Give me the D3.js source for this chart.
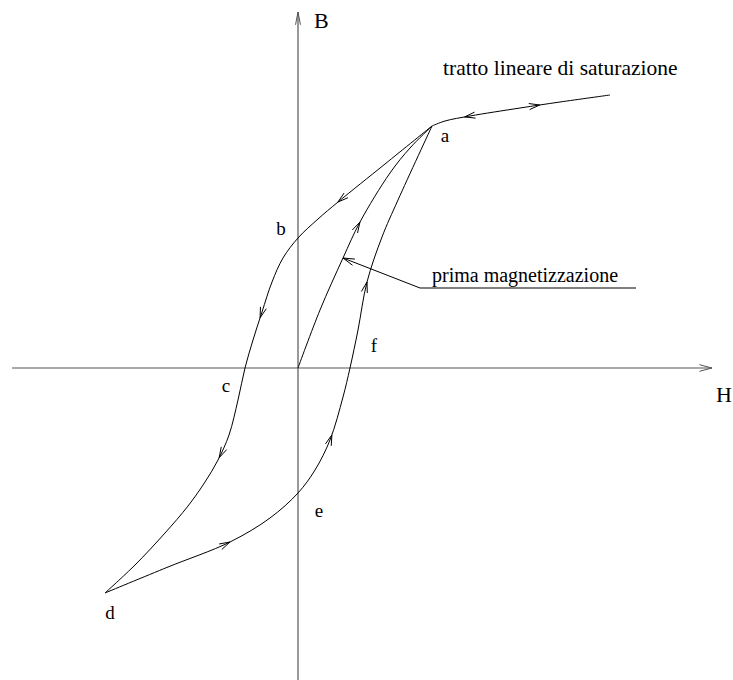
<!DOCTYPE html>
<html>
<head>
<meta charset="utf-8">
<script src="https://cdn.jsdelivr.net/npm/d3@7"></script>
<style>
  body { margin: 0; background: #fff; }
  text { font-family: "Liberation Serif", "DejaVu Serif", serif; fill: #000; }
</style>
</head>
<body>
<div id="chart"></div>
<script>
// curves in (H, B) units, origin at the axes crossing
var saturation = [[134, 242], [147, 247], [172, 252], [222, 260], [262, 266], [312, 273]];
var descending = [[134, 242], [87, 204], [40, 166], [20, 149], [0, 130], [-15, 110], [-26, 86],
  [-36, 56], [-45, 28], [-53, 0], [-60, -32], [-69, -67], [-80, -92], [-93, -114], [-110, -138],
  [-133, -165], [-163, -197], [-193, -225]];
var ascending = [[-193, -225], [-130, -199], [-68, -174], [-28, -150], [0, -125], [17, -102],
  [32, -72], [45, -29], [52, 0], [60, 38], [69, 86], [84, 131], [100, 168], [134, 242]];
var firstMag = [[0, 0], [22, 58], [45, 110], [62, 146], [92, 195], [112, 220], [134, 242]];

// arrow tips: curve name, point near the tip, direction along the curve
var arrows = [
  ['saturation', 167, 250, -1], ['saturation', 242, 260, 1],
  ['descending', 40, 166, 1], ['descending', -38, 50, 1], ['descending', -80, -89, 1],
  ['ascending', -68, -174, 1], ['ascending', 34, -67, 1], ['ascending', 69, 86, 1],
  ['firstMag', 62, 146, 1]
];

var pointNames = ['a', 'b', 'c', 'd', 'e', 'f'];
var pointPos = [[147, 226], [-17, 133], [-72, -24], [-188, -251], [21, -149], [76, 16]];

var leader = [[45, 110], [122, 80], [338, 80]];
var leaderText = 'prima magnetizzazione';
var saturationText = 'tratto lineare di saturazione';

function renderChart() {
  var width = 733, height = 680;
  var chart = d3.select('#chart').append('svg')
    .attr('width', width)
    .attr('height', height);

  var x = d3.scaleLinear().domain([-286, 414]).range([12, 712]);
  var y = d3.scaleLinear().domain([-312, 356]).range([680, 12]);

  var line = d3.line()
    .x(function(d) { return x(d[0]); })
    .y(function(d) { return y(d[1]); })
    .curve(d3.curveCatmullRom.alpha(0.5));

  // axes
  chart.append('line')
    .attr('x1', x(0)).attr('x2', x(0))
    .attr('y1', y.range()[0]).attr('y2', y.range()[1])
    .attr('stroke', '#555').attr('stroke-width', 1.2);
  chart.append('line')
    .attr('x1', x.range()[0]).attr('x2', x.range()[1])
    .attr('y1', y(0)).attr('y2', y(0))
    .attr('stroke', '#555').attr('stroke-width', 1.2);

  function vHead(tx, ty, ang, len, half, color) {
    var p = [];
    [-half, half].forEach(function(h) {
      var a = ang + Math.PI + h;
      p.push([tx + len * Math.cos(a), ty + len * Math.sin(a)]);
    });
    chart.append('path')
      .attr('d', 'M' + p[0] + 'L' + tx + ',' + ty + 'L' + p[1])
      .attr('fill', 'none')
      .attr('stroke', color)
      .attr('stroke-width', 1);
  }

  vHead(x(0), y.range()[1], -Math.PI / 2, 13, 0.19, '#555');
  vHead(x.range()[1], y(0), 0, 13, 0.26, '#555');

  var curves = { saturation: saturation, descending: descending, ascending: ascending, firstMag: firstMag };
  var nodes = {};
  Object.keys(curves).forEach(function(k) {
    nodes[k] = chart.append('path')
      .datum(curves[k])
      .attr('d', line)
      .attr('fill', 'none')
      .attr('stroke', '#000')
      .attr('stroke-width', 1)
      .node();
  });

  arrows.forEach(function(a) {
    var node = nodes[a[0]];
    var total = node.getTotalLength();
    var px = x(a[1]), py = y(a[2]);
    var best = 0, bestD = Infinity;
    for (var l = 0; l <= total; l += 0.5) {
      var p = node.getPointAtLength(l);
      var dd = (p.x - px) * (p.x - px) + (p.y - py) * (p.y - py);
      if (dd < bestD) { bestD = dd; best = l; }
    }
    var p0 = node.getPointAtLength(Math.max(0, best - 2));
    var p1 = node.getPointAtLength(Math.min(total, best + 2));
    var ang = Math.atan2(p1.y - p0.y, p1.x - p0.x);
    if (a[3] < 0) ang += Math.PI;
    var tip = node.getPointAtLength(best);
    vHead(tip.x, tip.y, ang, 11, 0.28, '#000');
  });

  // leader line for first magnetization
  chart.append('path')
    .datum(leader)
    .attr('d', d3.line().x(function(d) { return x(d[0]); }).y(function(d) { return y(d[1]); }))
    .attr('fill', 'none')
    .attr('stroke', '#000')
    .attr('stroke-width', 1);
  var lAng = Math.atan2(y(leader[0][1]) - y(leader[1][1]), x(leader[0][0]) - x(leader[1][0]));
  vHead(x(leader[0][0]), y(leader[0][1]), lAng, 12, 0.28, '#000');

  chart.append('text')
    .attr('x', x(leader[1][0]) + 12)
    .attr('y', y(leader[1][1]) - 6)
    .style('font-size', '20px')
    .text(leaderText);

  chart.append('text')
    .attr('x', x(saturation[saturation.length - 1][0]) - 167)
    .attr('y', 75)
    .style('font-size', '21.5px')
    .text(saturationText);

  chart.selectAll('.pt')
    .data(pointNames).enter()
    .append('text')
    .attr('class', 'pt')
    .attr('x', function(d, i) { return x(pointPos[i][0]); })
    .attr('y', function(d, i) { return y(pointPos[i][1]); })
    .attr('text-anchor', 'middle')
    .style('font-size', '19px')
    .text(function(d) { return d; });

  chart.append('text')
    .attr('x', x(0) + 16).attr('y', 28)
    .style('font-size', '22px')
    .text('B');
  chart.append('text')
    .attr('x', x.range()[1] + 4).attr('y', y(0) + 34)
    .style('font-size', '22px')
    .text('H');
}

renderChart();
</script>
</body>
</html>
